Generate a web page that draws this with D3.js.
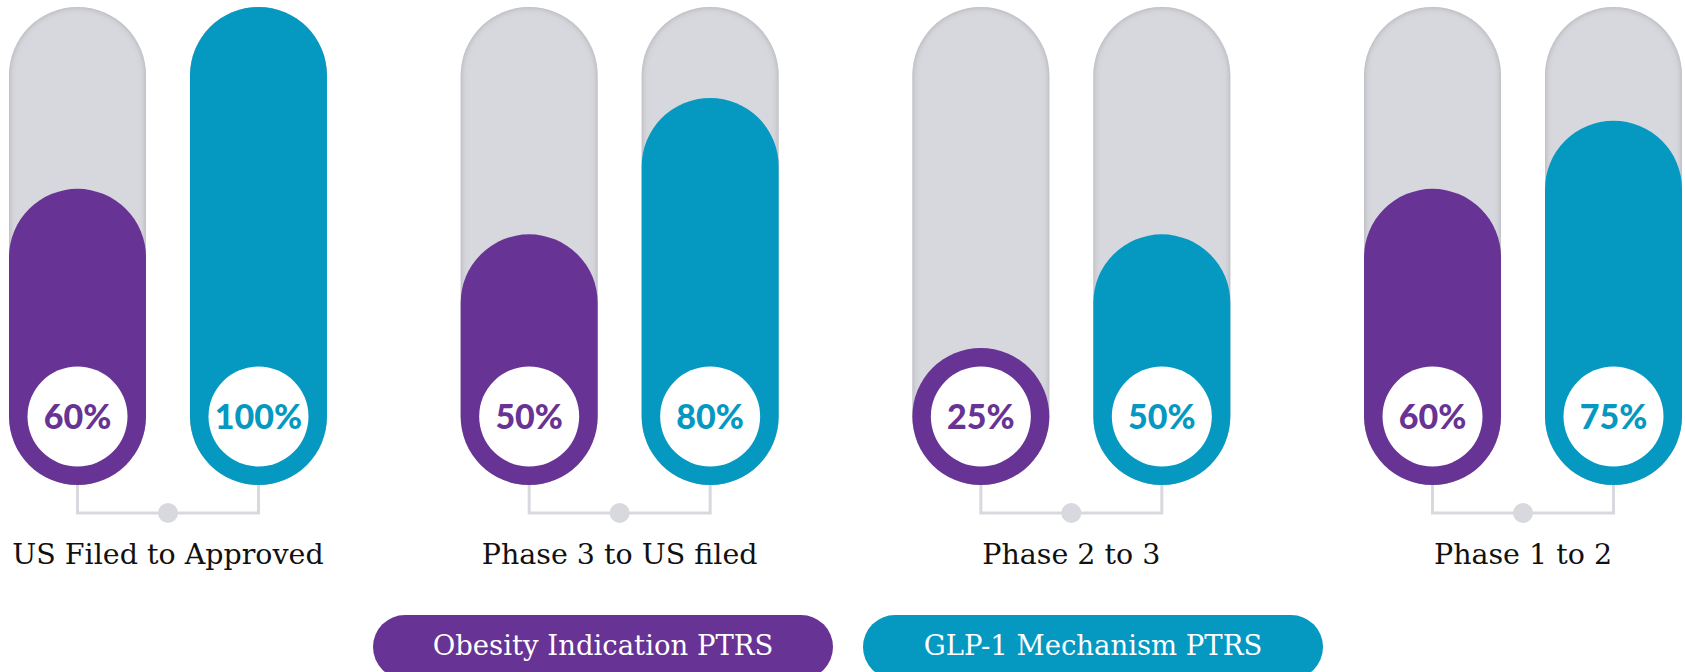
<!DOCTYPE html>
<html>
<head>
<meta charset="utf-8">
<script src="https://cdn.jsdelivr.net/npm/d3@7/dist/d3.min.js"></script>
<style>
    body { margin: 0; background: #fff; }
    svg { display: block; }
</style>
</head>
<body>
<div id="chart"></div>
<script>
const categories=["US Filed to Approved", "Phase 3 to US filed", "Phase 2 to 3", "Phase 1 to 2"];
const seriesNames=["Obesity Indication PTRS", "GLP-1 Mechanism PTRS"];
const obesityValues=[60, 50, 25, 60];
const glp1Values=[100, 80, 50, 75];
const seriesColors=["#673394", "#0598c1"];

document.addEventListener("DOMContentLoaded", function () {
    const width=1685;
    const height=672;
    const barTop=7;
    const barBottom=485;

    const svg=d3.select("#chart")
        .append("svg")
        .attr("width", width)
        .attr("height", height);

    // inner shadow for the grey tracks
    const filter=svg.append("defs").append("filter")
        .attr("id", "inset")
        .attr("x", "-10%").attr("y", "-10%")
        .attr("width", "120%").attr("height", "120%");
    filter.append("feFlood").attr("flood-color", "#a4a5ad");
    filter.append("feComposite").attr("in2", "SourceAlpha").attr("operator", "out");
    filter.append("feGaussianBlur").attr("stdDeviation", 3);
    filter.append("feComposite").attr("in2", "SourceAlpha").attr("operator", "in").attr("result", "shadow");
    const merge=filter.append("feMerge");
    merge.append("feMergeNode").attr("in", "SourceGraphic");
    merge.append("feMergeNode").attr("in", "shadow");

    const x0=d3.scaleBand()
        .domain(categories)
        .range([9, 1682])
        .paddingInner(0.296);

    const x1=d3.scaleBand()
        .domain(seriesNames)
        .range([0, x0.bandwidth()])
        .paddingInner(0.243);

    const bw=x1.bandwidth();
    const r=bw/2;

    // bar length: smallest value is just the round cap
    const h=d3.scaleLinear()
        .domain([25, 100])
        .range([bw, barBottom-barTop]);

    const rows=categories.map((c, i) => ({
        name: c,
        values: [
            {series: seriesNames[0], value: obesityValues[i], color: seriesColors[0]},
            {series: seriesNames[1], value: glp1Values[i], color: seriesColors[1]}
        ]
    }));

    const groups=svg.selectAll(".group")
        .data(rows)
        .enter().append("g")
        .attr("class", "group")
        .attr("transform", d => `translate(${x0(d.name)},0)`);

    // connector under each pair
    groups.append("path")
        .attr("d", `M${x1(seriesNames[0])+r},${barBottom}V513H${x1(seriesNames[1])+r}V${barBottom}`)
        .attr("fill", "none")
        .attr("stroke", "#d8d9de")
        .attr("stroke-width", 3);

    groups.append("circle")
        .attr("cx", x0.bandwidth()/2)
        .attr("cy", 513)
        .attr("r", 10)
        .attr("fill", "#d8d9de");

    groups.append("text")
        .attr("x", x0.bandwidth()/2)
        .attr("y", 564)
        .attr("text-anchor", "middle")
        .attr("font-family", "DejaVu Serif")
        .attr("font-size", 28.5)
        .attr("fill", "#111")
        .text(d => d.name);

    const bars=groups.selectAll(".bar")
        .data(d => d.values)
        .enter().append("g")
        .attr("class", "bar")
        .attr("transform", d => `translate(${x1(d.series)},0)`);

    bars.append("rect")
        .attr("class", "track")
        .attr("y", barTop)
        .attr("width", bw)
        .attr("height", barBottom-barTop)
        .attr("rx", r)
        .attr("fill", "#d7d8dd")
        .attr("filter", "url(#inset)");

    bars.append("rect")
        .attr("class", "fill")
        .attr("y", d => barBottom-h(d.value))
        .attr("width", bw)
        .attr("height", d => h(d.value))
        .attr("rx", r)
        .attr("fill", d => d.color);

    bars.append("circle")
        .attr("cx", r)
        .attr("cy", barBottom-r)
        .attr("r", 50)
        .attr("fill", "#fff");

    bars.append("text")
        .attr("x", r)
        .attr("y", barBottom-r)
        .attr("dy", "0.36em")
        .attr("text-anchor", "middle")
        .attr("font-family", "Lato")
        .attr("font-weight", 900)
        .attr("font-size", 34)
        .attr("fill", d => d.color)
        .text(d => d.value+"%");

    // legend pills
    const lx=d3.scaleBand()
        .domain(seriesNames)
        .range([373, 1323])
        .paddingInner(0.0612);

    const legend=svg.selectAll(".legend")
        .data(seriesNames)
        .enter().append("g")
        .attr("class", "legend")
        .attr("transform", d => `translate(${lx(d)},615)`);

    legend.append("rect")
        .attr("width", lx.bandwidth())
        .attr("height", 64)
        .attr("rx", 32)
        .attr("fill", (d, i) => seriesColors[i]);

    legend.append("text")
        .attr("x", lx.bandwidth()/2)
        .attr("y", 40)
        .attr("text-anchor", "middle")
        .attr("font-family", "DejaVu Serif")
        .attr("font-size", 27.5)
        .attr("fill", "#fff")
        .text(d => d);
});
</script>
</body>
</html>
